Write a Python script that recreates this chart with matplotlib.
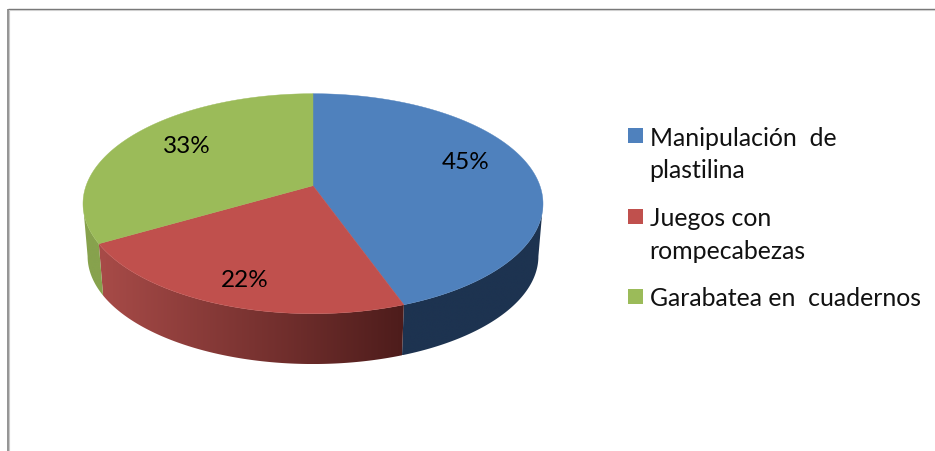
import numpy as np
import matplotlib
matplotlib.use("Agg")
import matplotlib.pyplot as plt
from matplotlib.colors import to_rgb
from matplotlib.patches import Polygon

categories = ["Manipulación  de\nplastilina", "Juegos con\nrompecabezas", "Garabatea en  cuadernos"]
values = [44.5, 22.2, 33.3]
pct_labels = ["45%", "22%", "33%"]
top_colors = ["#4f81bd", "#c0504d", "#9bbb59"]

W, H = 935, 452
plt.rcParams["font.family"] = ["Lato", "DejaVu Sans"]
fig = plt.figure(figsize=(W / 100, H / 100), dpi=100, facecolor="white")
ax = fig.add_axes([0, 0, 1, 1])

# perspective projection of a disc (theta clockwise from the top)
CX, CY, A, B, K = 313.0, 186.7, 226.9, 107.05, 0.1636
LOW_CY, LOW_SCALE = 239.6, 0.98


def rim(theta, lower=False):
    t = np.radians(theta)
    w = 1 + K * np.cos(t)
    x = A * np.sin(t) / w
    y = -B * np.cos(t) / w
    if lower:
        return CX + LOW_SCALE * x, LOW_CY + LOW_SCALE * y
    return CX + x, CY + y


edges = np.concatenate([[0], np.cumsum(values)]) / np.sum(values) * 360
VIS_A = np.degrees(np.arccos(-K))
VIS_B = 360 - VIS_A

# side walls: horizontal gradient clipped to each wall
side_left = ["#1d3350", "#a84b48", "#87a24d"]
side_right = ["#1d3350", "#4d1c1b", "#87a24d"]
for i in range(3):
    a = max(edges[i], VIS_A)
    b = min(edges[i + 1], VIS_B)
    if b <= a:
        continue
    th = np.linspace(a, b, 200)
    xa, ya = rim(th)
    xb, yb = rim(th[::-1], lower=True)
    xs, ys = np.r_[xa, xb], np.r_[ya, yb]
    ramp = np.linspace(0, 1, 256)[None, :, None]
    c0, c1 = np.array(to_rgb(side_left[i])), np.array(to_rgb(side_right[i]))
    img = c0[None, None, :] + (c1 - c0)[None, None, :] * ramp
    poly = Polygon(np.c_[xs, ys], closed=True, fc="none", ec="none", transform=ax.transData)
    ax.add_patch(poly)
    im = ax.imshow(img, extent=(xs.min(), xs.max(), ys.max(), ys.min()), aspect="auto",
                   interpolation="bilinear", zorder=2)
    im.set_clip_path(poly)

ax.set_xlim(0, W)
ax.set_ylim(H, 0)
ax.axis("off")

# top faces
for i in range(3):
    th = np.linspace(edges[i], edges[i + 1], 200)
    x, y = rim(th)
    ax.fill(np.r_[CX, x], np.r_[CY, y], color=top_colors[i], lw=0.3, zorder=3)

# percentage labels
label_xy = [(466, 163), (245, 281), (187, 147)]
for (lx, ly), s in zip(label_xy, pct_labels):
    ax.text(lx, ly, s, fontsize=17.5, ha="center", va="center", color="black", zorder=4)

# legend
marker_y = [129, 210, 290]
text_y = [[146, 178], [226, 259], [306]]
for i, cat in enumerate(categories):
    ax.fill([628, 643, 643, 628], np.array([0, 0, 15, 15]) + marker_y[i], color=top_colors[i], lw=0, zorder=4)
    for line, by in zip(cat.split("\n"), text_y[i]):
        ax.text(649.5, by, line, fontsize=17.9, ha="left", va="baseline", color="#111111", zorder=4)

# frame
ax.plot([8.2, 8.2], [H, 9.5], color="#808080", lw=1.2, zorder=5, solid_capstyle="butt")
ax.plot([8.2, W], [9.5, 9.5], color="#757575", lw=1.0, zorder=5, solid_capstyle="butt")
ax.plot([9.3, 9.3], [H, 10.6], color="#c8c8c8", lw=0.8, zorder=5, solid_capstyle="butt")
ax.plot([9.3, W], [10.6, 10.6], color="#cfcfcf", lw=0.8, zorder=5, solid_capstyle="butt")

fig.savefig("out.png", dpi=100, facecolor="white")
